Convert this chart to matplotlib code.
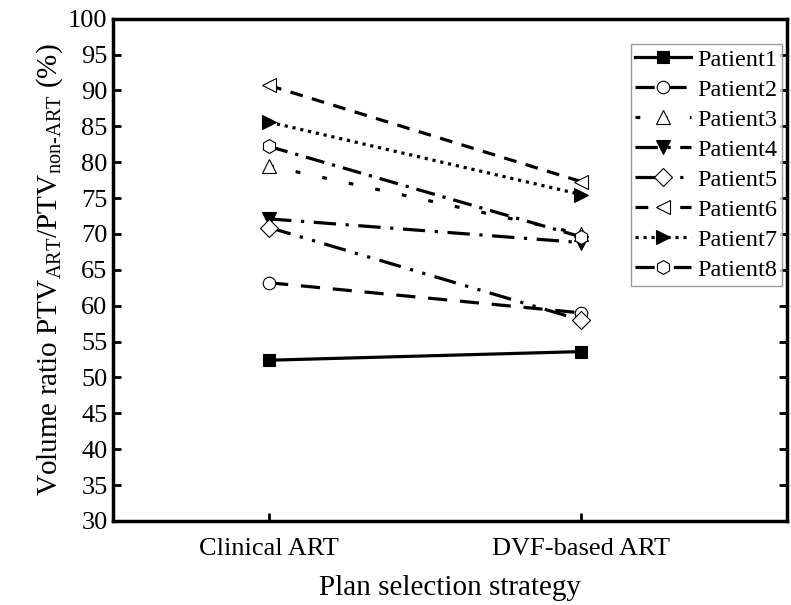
import matplotlib
matplotlib.use('Agg')
from matplotlib import pyplot as plt

plt.rcParams['font.family'] = ['Liberation Serif', 'DejaVu Serif']
plt.rcParams['mathtext.fontset'] = 'custom'
plt.rcParams['mathtext.rm'] = 'Liberation Serif'

strategies = ['Clinical ART', 'DVF-based ART']
patients = ['Patient1', 'Patient2', 'Patient3', 'Patient4',
            'Patient5', 'Patient6', 'Patient7', 'Patient8']
clinical = [52.4, 63.2, 79.5, 72.1, 70.9, 90.7, 85.6, 82.2]
dvf = [53.6, 59.0, 70.0, 68.8, 58.0, 77.3, 75.5, 69.6]

markers = ['s', 'o', '^', 'v', 'D', '<', '>', 'h']
filled = [True, False, False, True, False, False, True, False]
styles = ['-', (0, (6, 4)), (0, (1.5, 7)), (0, (7, 3, 1, 3)),
          (0, (7, 3, 1, 3, 1, 3)), (0, (4, 3)), (0, (1, 1.5)), (0, (6, 2.5, 1, 2.5))]
sizes = [9, 9, 10, 10, 9, 10, 10, 10]

fig, ax = plt.subplots(figsize=(7.91, 6.05), dpi=100)
fig.subplots_adjust(left=0.143, right=0.995, top=0.969, bottom=0.139)

x = [1, 2]
for i, name in enumerate(patients):
    ax.plot(x, [clinical[i], dvf[i]], color='black', lw=2.3, linestyle=styles[i],
            marker=markers[i], markersize=sizes[i],
            markerfacecolor='black' if filled[i] else 'white',
            markeredgecolor='black', markeredgewidth=0.8, label=name)

ax.set_xlim(0.5, 2.66)
ax.set_ylim(30, 100)
ax.set_xticks(x)
ax.set_xticklabels(strategies)
ax.set_yticks(range(30, 101, 5))
ax.tick_params(axis='both', direction='in', labelsize=19, width=2, length=6)
ax.tick_params(axis='x', pad=12)
ax.tick_params(axis='y', right=True, pad=4)
for s in ax.spines.values():
    s.set_linewidth(2.5)

ax.set_xlabel('Plan selection strategy', fontsize=21, labelpad=11)
ax.set_ylabel(r'Volume ratio PTV$_{\mathrm{ART}}$/PTV$_{\mathrm{non\text{-}ART}}$ (%)',
              fontsize=21, labelpad=2)

leg = ax.legend(loc='upper right', bbox_to_anchor=(0.993, 0.95), fontsize=17.5,
                frameon=True, fancybox=False, handlelength=2.3, handletextpad=0.25,
                labelspacing=0.33, borderpad=0.2, borderaxespad=0.0)
leg.get_frame().set_edgecolor('gray')
leg.get_frame().set_linewidth(1)

fig.savefig('out.png', dpi=100)
